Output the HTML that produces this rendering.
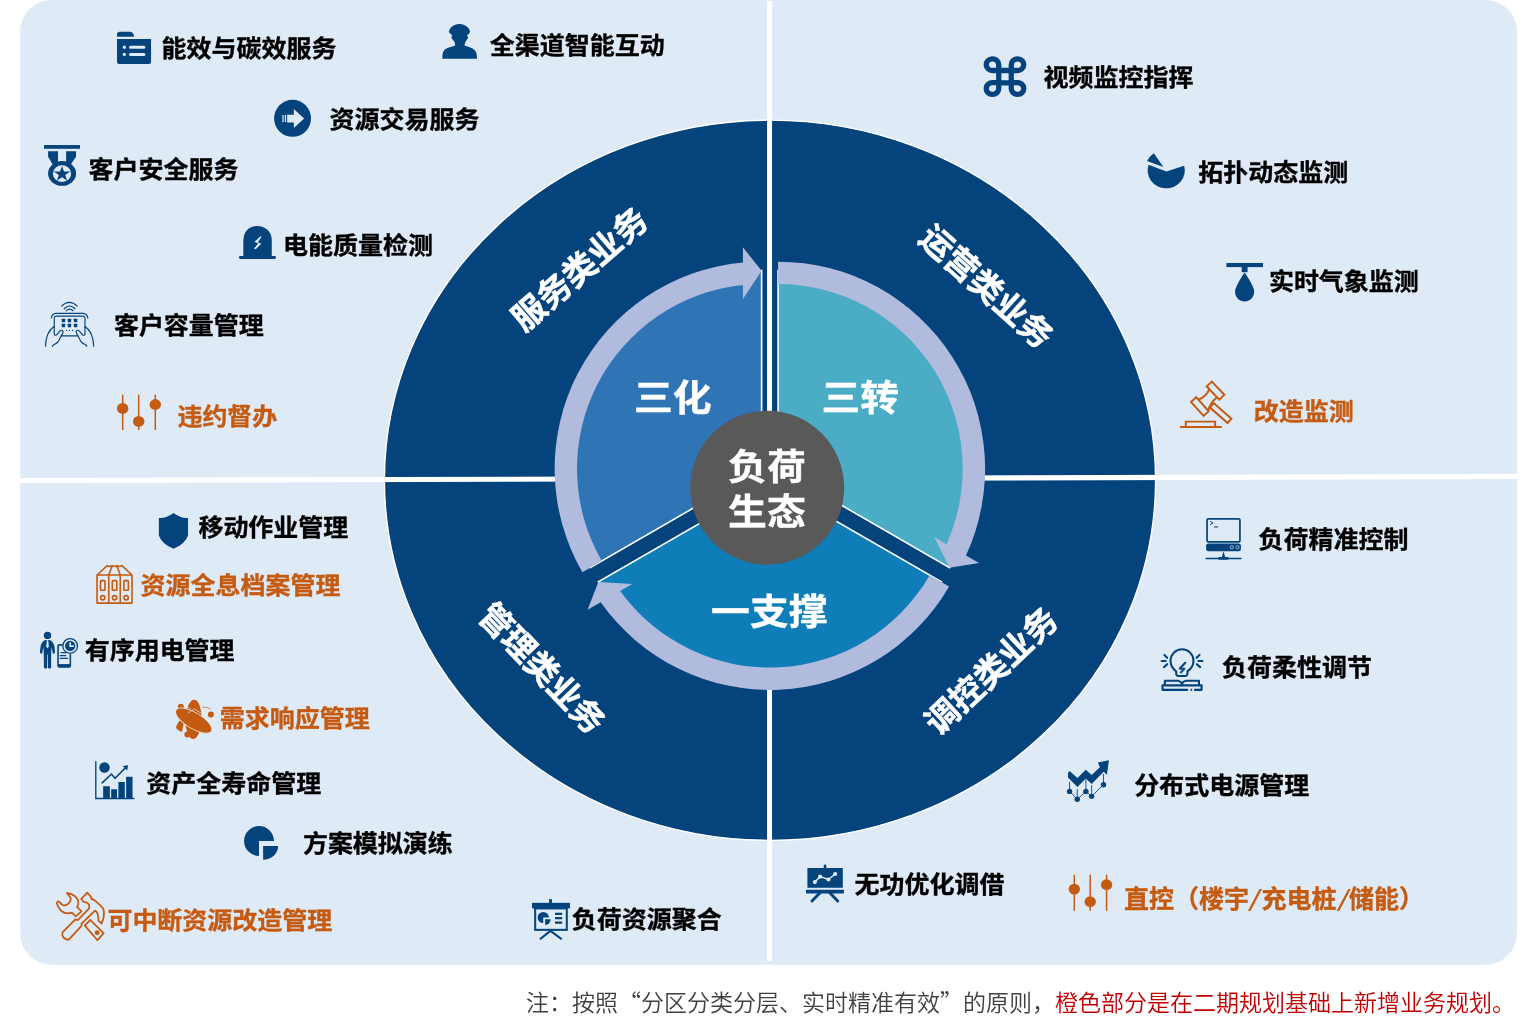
<!DOCTYPE html>
<html lang="zh-CN"><head><meta charset="utf-8"><title>负荷生态</title>
<style>
html,body{margin:0;padding:0;background:#fff;}
body{width:1533px;height:1029px;overflow:hidden;}
svg{display:block;will-change:transform;font-family:"Liberation Sans","Noto Sans CJK SC",sans-serif;}
</style></head><body>
<svg width="1533" height="1029" viewBox="0 0 1533 1029">
<rect x="20.2" y="0" width="1496.7" height="964.8" rx="32" ry="31" fill="#deeaf6"/>
<ellipse cx="770" cy="480.25" rx="385.6" ry="360.1" fill="#04437b" stroke="#fff" stroke-width="1.4"/>
<line x1="769.55" y1="1" x2="769.55" y2="961.2" stroke="#fff" stroke-width="5"/>
<line x1="20" y1="480.5" x2="1517" y2="476.5" stroke="#fff" stroke-width="5.1"/>
<path d="M778.08 468.65 L778.08 270.65 A198.0 198.0 0 0 1 949.55 567.65 Z" fill="#4bacc6" stroke="#fff" stroke-width="1.6" stroke-linejoin="miter"/>
<path d="M769.85 482.9 L941.32 581.9 A198.0 198.0 0 0 1 598.38 581.9 Z" fill="#0f7eb8" stroke="#fff" stroke-width="1.6" stroke-linejoin="miter"/>
<path d="M761.62 468.65 L590.15 567.65 A198.0 198.0 0 0 1 761.62 270.65 Z" fill="#2f74b5" stroke="#fff" stroke-width="1.6" stroke-linejoin="miter"/>
<path d="M778.08 261.65 A207.0 207.0 0 0 1 965.96 555.53 L979.08 563.11 L949.55 567.65 L934.39 537.31 L946.47 544.28 A184.6 184.6 0 0 0 778.08 284.05 Z" fill="#b0bbde"/>
<path d="M949.12 586.4 A207.0 207.0 0 0 1 600.67 602.17 L587.55 609.74 L598.38 581.9 L632.24 583.94 L620.15 590.92 A184.6 184.6 0 0 0 929.72 575.2 Z" fill="#b0bbde"/>
<path d="M582.36 572.15 A207.0 207.0 0 0 1 742.92 262.5 L742.92 247.35 L761.62 270.65 L742.92 298.95 L742.92 285 A184.6 184.6 0 0 0 601.75 560.95 Z" fill="#b0bbde"/>
<circle cx="767.2" cy="487.7" r="77" fill="#595959"/>
<text transform="translate(672.7 411.2) scale(1.035 0.955)" font-size="37.5" text-anchor="middle" fill="#fff" stroke="#fff" stroke-width="0.4" font-weight="700" >三化</text>
<text transform="translate(860.2 411.2) scale(1.035 0.955)" font-size="37.5" text-anchor="middle" fill="#fff" stroke="#fff" stroke-width="0.4" font-weight="700" >三转</text>
<text transform="translate(769.3 624.9) scale(1.035 0.955)" font-size="37.5" text-anchor="middle" fill="#fff" stroke="#fff" stroke-width="0.4" font-weight="700" >一支撑</text>
<text transform="translate(766.9 480.1) scale(1.035 0.955)" font-size="37.5" text-anchor="middle" fill="#fff" stroke="#fff" stroke-width="0.4" font-weight="700" >负荷</text>
<text transform="translate(766.9 525) scale(1.035 0.955)" font-size="37.5" text-anchor="middle" fill="#fff" stroke="#fff" stroke-width="0.4" font-weight="700" >生态</text>
<text transform="translate(579.8 269.6) rotate(-40.8)" x="0" y="0" font-size="33.4" text-anchor="middle" dominant-baseline="central" fill="#fff" stroke="#fff" stroke-width="0.5" font-weight="700">服务类业务</text>
<text transform="translate(986.1 287) rotate(41.8)" x="0" y="0" font-size="33" text-anchor="middle" dominant-baseline="central" fill="#fff" stroke="#fff" stroke-width="0.5" font-weight="700">运营类业务</text>
<text transform="translate(541.6 668.6) rotate(46.2)" x="0" y="0" font-size="33" text-anchor="middle" dominant-baseline="central" fill="#fff" stroke="#fff" stroke-width="0.5" font-weight="700">管理类业务</text>
<text transform="translate(991.5 671.4) rotate(-43.1)" x="0" y="0" font-size="33.4" text-anchor="middle" dominant-baseline="central" fill="#fff" stroke="#fff" stroke-width="0.5" font-weight="700">调控类业务</text>
<text transform="translate(161.6 57.1) scale(1 0.965)" font-size="25" fill="#000" stroke="#000" stroke-width="0.35" font-weight="700">能效与碳效服务</text>
<text transform="translate(489.8 53.5) scale(1 0.965)" font-size="25" fill="#000" stroke="#000" stroke-width="0.35" font-weight="700">全渠道智能互动</text>
<text transform="translate(329.6 127.7) scale(1 0.965)" font-size="25" fill="#000" stroke="#000" stroke-width="0.35" font-weight="700">资源交易服务</text>
<text transform="translate(88.5 177.7) scale(1 0.965)" font-size="25" fill="#000" stroke="#000" stroke-width="0.35" font-weight="700">客户安全服务</text>
<text transform="translate(283.1 253.5) scale(1 0.965)" font-size="25" fill="#000" stroke="#000" stroke-width="0.35" font-weight="700">电能质量检测</text>
<text transform="translate(113.9 333.6) scale(1 0.965)" font-size="25" fill="#000" stroke="#000" stroke-width="0.35" font-weight="700">客户容量管理</text>
<text transform="translate(177.4 425.4) scale(1 0.965)" font-size="25" fill="#c55a11" stroke="#c55a11" stroke-width="0.35" font-weight="700">违约督办</text>
<text transform="translate(1043.5 86.3) scale(1 0.965)" font-size="25" fill="#000" stroke="#000" stroke-width="0.35" font-weight="700">视频监控指挥</text>
<text transform="translate(1198.3 181.3) scale(1 0.965)" font-size="25" fill="#000" stroke="#000" stroke-width="0.35" font-weight="700">拓扑动态监测</text>
<text transform="translate(1268.9 289.5) scale(1 0.965)" font-size="25" fill="#000" stroke="#000" stroke-width="0.35" font-weight="700">实时气象监测</text>
<text transform="translate(1253.7 420.2) scale(1 0.965)" font-size="25" fill="#c55a11" stroke="#c55a11" stroke-width="0.35" font-weight="700">改造监测</text>
<text transform="translate(198.4 535.5) scale(1 0.965)" font-size="25" fill="#000" stroke="#000" stroke-width="0.35" font-weight="700">移动作业管理</text>
<text transform="translate(140.6 593.5) scale(1 0.965)" font-size="25" fill="#c55a11" stroke="#c55a11" stroke-width="0.35" font-weight="700">资源全息档案管理</text>
<text transform="translate(84.7 658.5) scale(1 0.965)" font-size="25" fill="#000" stroke="#000" stroke-width="0.35" font-weight="700">有序用电管理</text>
<text transform="translate(219.8 727.4) scale(1 0.965)" font-size="25" fill="#c55a11" stroke="#c55a11" stroke-width="0.35" font-weight="700">需求响应管理</text>
<text transform="translate(146.3 792.3) scale(1 0.965)" font-size="25" fill="#000" stroke="#000" stroke-width="0.35" font-weight="700">资产全寿命管理</text>
<text transform="translate(302.9 851.8) scale(1 0.965)" font-size="25" fill="#000" stroke="#000" stroke-width="0.35" font-weight="700">方案模拟演练</text>
<text transform="translate(107.4 928.5) scale(1 0.965)" font-size="25" fill="#c55a11" stroke="#c55a11" stroke-width="0.35" font-weight="700">可中断资源改造管理</text>
<text transform="translate(571.8 927.7) scale(1 0.965)" font-size="25" fill="#000" stroke="#000" stroke-width="0.35" font-weight="700">负荷资源聚合</text>
<text transform="translate(1258.6 548.2) scale(1 0.965)" font-size="25" fill="#000" stroke="#000" stroke-width="0.35" font-weight="700">负荷精准控制</text>
<text transform="translate(1222 675.5) scale(1 0.965)" font-size="25" fill="#000" stroke="#000" stroke-width="0.35" font-weight="700">负荷柔性调节</text>
<text transform="translate(1134.3 793.6) scale(1 0.965)" font-size="25" fill="#000" stroke="#000" stroke-width="0.35" font-weight="700">分布式电源管理</text>
<text transform="translate(854.6 893.3) scale(1 0.965)" font-size="25" fill="#000" stroke="#000" stroke-width="0.35" font-weight="700">无功优化调借</text>
<text y="908" font-size="25" fill="#c55a11" stroke="#c55a11" stroke-width="0.35" font-weight="700"><tspan x="1123.9">直控（楼宇</tspan><tspan x="1261.5">充电桩</tspan><tspan x="1349.1">储能）</tspan></text>
<text transform="translate(1248.5 907.4) skewX(-13) scale(1 0.86)" font-family="Noto Sans CJK SC" font-size="26" fill="#c55a11" font-weight="700">/</text>
<text transform="translate(1337.3 907.4) skewX(-13) scale(1 0.86)" font-family="Noto Sans CJK SC" font-size="26" fill="#c55a11" font-weight="700">/</text>
<text x="526" y="1010.5" font-size="23" font-weight="350" fill="#404040">注：按照<tspan font-family="Noto Sans CJK SC">“</tspan>分区分类分层、实时精准有效<tspan font-family="Noto Sans CJK SC">”</tspan>的原则，<tspan fill="#c00000">橙色部分是在二期规划基础上新增业务规划。</tspan></text>
<g transform="translate(105 20) scale(0.05342)" ><path d="M225 315 V272 Q225 222 277 222 H468 Q520 226 545 298 V315 Z" fill="#04437b"/>
<path d="M225 355 H862 V785 Q862 825 822 825 H265 Q225 825 225 785 Z" fill="#04437b"/>
<circle cx="362" cy="510" r="31" fill="#deeaf6"/><circle cx="362" cy="645" r="31" fill="#deeaf6"/>
<path d="M478 510 H728 M478 645 H728" stroke="#deeaf6" stroke-width="58" stroke-linecap="round"/></g>
<g transform="translate(430 15) scale(0.05342)" ><path d="M230 820 L235 740 Q250 640 340 615 L420 588 L470 572 L466 520 Q440 470 405 440 Q393 400 420 380 Q352 342 355 305 Q372 228 450 190 Q550 150 650 190 Q738 236 750 308 Q742 350 690 380 Q722 410 706 446 Q660 490 645 550 L655 575 L700 592 Q760 616 790 622 Q860 660 875 740 L880 820 Z" fill="#04437b"/></g>
<g transform="translate(265 92) scale(0.05149)" ><ellipse cx="535.5" cy="511" rx="358" ry="359" fill="#04437b"/>
<path d="M430 440 H560 V330 L760 515 L560 700 V590 H430 Z" fill="#deeaf6"/>
<rect x="335" y="445" width="30" height="140" fill="#deeaf6" opacity=".8"/><rect x="385" y="445" width="24" height="140" fill="#deeaf6"/></g>
<g transform="translate(35 135) scale(0.05342)" ><rect x="170" y="188" width="673" height="70" fill="#04437b"/>
<path d="M245 302 H430 V520 L340 565 L245 405 Z M583 302 H768 V405 L668 550 L583 520 Z" fill="#04437b"/>
<ellipse cx="507" cy="720" rx="262" ry="231" fill="#04437b"/>
<ellipse cx="506" cy="724" rx="171" ry="156" fill="#deeaf6"/>
<polygon points="506.0,582.0 542.8,685.1 660.1,685.6 565.6,749.9 601.2,853.4 506.0,790.0 410.8,853.4 446.4,749.9 351.9,685.6 469.2,685.1" fill="#04437b"/></g>
<g transform="translate(230 215) scale(0.05342)" ><path d="M250 790 V470 Q255 330 350 255 Q430 200 516 205 Q610 205 690 265 Q780 340 782 470 V790 Z" fill="#04437b"/>
<path d="M195 795 H833" stroke="#04437b" stroke-width="54" stroke-linecap="round"/>
<path d="M578 392 L458 500 L528 532 L448 628 L482 642 L584 540 L522 508 L588 410 Z" fill="#deeaf6"/></g>
<g transform="translate(35 295) scale(0.05834)" ><g fill="none" stroke="#04437b" stroke-width="20" stroke-linecap="round" stroke-linejoin="round">
<path d="M455 190 Q590 65 725 190"/><path d="M500 236 Q592 140 685 236"/><path d="M536 270 Q592 215 650 270"/>
<path d="M280 395 Q290 320 360 315 H825 Q895 320 905 395"/>
<path d="M448 700 H735"/>
<path d="M330 560 V395 Q330 362 362 362 H825 Q857 362 857 395 V560"/>
<path d="M325 540 Q185 640 180 880"/><path d="M860 540 Q1000 640 1005 880"/>
<path d="M330 560 V665 Q335 700 370 685 L430 615 Q465 590 482 625 Q478 660 455 690 L405 790 Q375 830 335 845 Q305 860 300 880"/>
<path d="M857 560 V665 Q852 700 817 685 L757 615 Q722 590 705 625 Q709 660 732 690 L782 790 Q812 830 852 845 Q882 860 887 880"/>
</g><rect x="458" y="408" width="58" height="58" rx="8" fill="#04437b"/><rect x="458" y="494" width="58" height="58" rx="8" fill="#04437b"/><rect x="561" y="408" width="58" height="58" rx="8" fill="#04437b"/><rect x="561" y="494" width="58" height="58" rx="8" fill="#04437b"/><rect x="666" y="408" width="58" height="58" rx="8" fill="#04437b"/><rect x="666" y="494" width="58" height="58" rx="8" fill="#04437b"/>
<circle cx="540" cy="608" r="11" fill="#04437b"/><circle cx="591" cy="608" r="11" fill="#04437b"/><circle cx="642" cy="608" r="11" fill="#04437b"/></g>
<line x1="122.7" y1="394.7" x2="122.7" y2="430" stroke="#c55a11" stroke-width="1.5"/><line x1="138.7" y1="394.7" x2="138.7" y2="430" stroke="#c55a11" stroke-width="1.5"/><line x1="155.3" y1="394.7" x2="155.3" y2="430" stroke="#c55a11" stroke-width="1.5"/><ellipse cx="122.7" cy="408.4" rx="5.7" ry="5.4" fill="#c55a11"/><ellipse cx="138.7" cy="421.4" rx="5.7" ry="5.4" fill="#c55a11"/><ellipse cx="155.3" cy="404.5" rx="5.7" ry="5.4" fill="#c55a11"/>
<line x1="1074.3" y1="874.8" x2="1074.3" y2="910.8" stroke="#c55a11" stroke-width="1.5"/><line x1="1090.2" y1="874.8" x2="1090.2" y2="910.8" stroke="#c55a11" stroke-width="1.5"/><line x1="1106.6" y1="874.8" x2="1106.6" y2="910.8" stroke="#c55a11" stroke-width="1.5"/><ellipse cx="1074.3" cy="889.1" rx="5.7" ry="5.4" fill="#c55a11"/><ellipse cx="1090.2" cy="901.7" rx="5.7" ry="5.4" fill="#c55a11"/><ellipse cx="1106.6" cy="884.7" rx="5.7" ry="5.4" fill="#c55a11"/>
<g transform="translate(960 30) scale(0.19569)" ><g fill="none" stroke="#04437b" stroke-width="27">
<path d="M195 207 H265 M195 270 H265 M198 204 V272 M262 204 V272"/>
<path d="M198 207 H168 A32 30 0 1 1 198 177 Z"/>
<path d="M262 207 H292 A32 30 0 1 0 262 177 Z"/>
<path d="M198 269 H168 A32 30 0 1 0 198 299 Z"/>
<path d="M262 269 H292 A32 30 0 1 1 262 299 Z"/>
</g></g>
<g transform="translate(1120 125) scale(0.19569)" ><path d="M237 237 L328 208 A95 92 0 1 1 146 203 Z" fill="#04437b"/>
<path d="M222 215 L138 184 Q150 160 173 144 Z" fill="#04437b"/></g>
<g transform="translate(1200 235) scale(0.19569)" ><rect x="135" y="143" width="187" height="21" fill="#04437b"/><rect x="213" y="160" width="30" height="30" fill="#04437b"/>
<path d="M228 192 Q262 240 276 280 A49 50 0 1 1 180 280 Q194 240 228 192 Z" fill="#04437b"/></g>
<g transform="translate(1150 360) scale(0.19569)" ><g fill="none" stroke="#c55a11" stroke-width="10" stroke-linejoin="miter">
<path d="M153 342 H367"/><path d="M183 342 V315 H333 V342"/>
<path d="M290 135 L316 110 L380 178 L354 203 Z"/>
<path d="M210 215 L236 190 L300 262 L274 286 Z"/>
<path d="M248 203 Q290 185 303 149 M298 259 Q305 222 342 190"/>
<path d="M305 242 L327 221 L416 300 L397 322 Z"/>
</g></g><g transform="translate(80 490) scale(0.19569)" ><path d="M478 118 Q515 146 552 143 V232 Q538 275 478 300 Q417 275 403 232 V143 Q440 146 478 118 Z" fill="#04437b"/></g>
<g transform="translate(85 555) scale(0.05342)" ><g fill="none" stroke="#c55a11" stroke-width="30" stroke-linejoin="round">
<rect x="225" y="375" width="655" height="525" rx="8"/>
<path d="M445 375 V900 M660 375 V900"/>
<path d="M225 375 L415 200 Q462 225 510 200 Q552 225 595 200 Q642 225 690 200 L880 375"/>
<path d="M445 375 L510 200 M660 375 L595 200"/>
<rect x="290" y="480" width="84" height="180" rx="14"/><circle cx="332" cy="800" r="40"/><rect x="511" y="480" width="84" height="180" rx="14"/><circle cx="553" cy="800" r="40"/><rect x="728" y="480" width="84" height="180" rx="14"/><circle cx="770" cy="800" r="40"/></g></g>
<g transform="translate(30 620) scale(0.05342)" ><circle cx="328" cy="288" r="69" fill="#04437b"/>
<path d="M290 375 L365 375 Q430 400 455 480 L470 600 Q460 642 428 630 L405 500 L396 620 L396 890 Q370 930 336 895 L333 650 L322 650 L320 895 Q290 930 260 890 L258 620 L250 500 L226 630 Q195 642 185 600 L200 480 Q225 400 290 375 Z" fill="#04437b"/>
<path d="M314 380 H342 L352 500 L328 528 L304 500 Z" fill="#deeaf6"/>
<rect x="525" y="465" width="230" height="415" rx="25" fill="none" stroke="#04437b" stroke-width="30"/>
<rect x="525" y="825" width="230" height="55" fill="#04437b"/>
<path d="M580 610 H690 M565 668 H670 M565 720 H705" stroke="#04437b" stroke-width="22" stroke-linecap="round"/>
<circle cx="752" cy="485" r="150" fill="#deeaf6"/>
<circle cx="752" cy="485" r="137" fill="none" stroke="#04437b" stroke-width="24"/>
<circle cx="752" cy="485" r="96" fill="#04437b"/>
<path d="M752 418 V490 H822" fill="none" stroke="#deeaf6" stroke-width="30"/></g>
<g transform="translate(160 690) scale(0.05345)" ><ellipse cx="628" cy="550" rx="150" ry="368" fill="#c55a11" transform="rotate(2 628 550)"/>
<path d="M410 785 Q300 740 300 690 Q320 620 370 570 Q420 600 440 640 Q430 720 410 785 Z" fill="#c55a11"/>
<circle cx="390" cy="312" r="56" fill="#c55a11"/><circle cx="952" cy="460" r="56" fill="#c55a11"/><circle cx="512" cy="832" r="56" fill="#c55a11"/>
<ellipse cx="630" cy="572" rx="385" ry="150" fill="#c55a11" stroke="#deeaf6" stroke-width="14" transform="rotate(31 630 572)"/>
<path d="M520 430 L640 355 L780 440" fill="none" stroke="#deeaf6" stroke-width="14"/>
<path d="M795 322 Q890 318 950 358" fill="none" stroke="#c55a11" stroke-width="12"/>
<path d="M500 325 Q545 330 575 350" fill="none" stroke="#deeaf6" stroke-width="12"/>
</g>
<g transform="translate(85 750) scale(0.05342)" ><path d="M202 220 V908 H915" fill="none" stroke="#04437b" stroke-width="25" stroke-linecap="round"/>
<circle cx="365" cy="328" r="98" fill="#04437b"/>
<path d="M340 900 V680 H465 V900 Z M490 900 V735 H600 V900 Z M625 900 V600 H745 V900 Z M770 900 V500 H890 V900 Z" fill="#04437b"/>
<path d="M312 625 L495 450 L562 528 L785 305" fill="none" stroke="#04437b" stroke-width="30"/>
<path d="M705 298 L805 285 L790 385 Z" fill="#04437b"/></g>
<g transform="translate(230 815) scale(0.05342)" ><path d="M543 487 H823 A280 280 0 1 0 543 767 Z" fill="#04437b"/>
<path d="M620 582 H900 A280 258 0 0 1 620 840 Z" fill="#04437b"/></g>
<g transform="translate(40 880) scale(0.06803)" ><g fill="none" stroke="#c55a11" stroke-width="26" stroke-linejoin="round">
<path d="M330 770 L520 580 L555 590 L720 420 Q742 350 670 325 L640 320 L605 280 L693 185 L745 240 Q750 290 800 295 Q880 360 930 420 Q960 520 905 640 L860 600 Q860 470 810 450 L610 640 L610 675 L420 880 Q310 860 330 770 Z"/>
<path d="M395 190 Q520 210 560 300 Q575 350 545 400 L610 460 L525 535 L470 480 Q380 510 320 460 Q265 410 245 340 Q260 300 290 325 Q340 400 400 360 Q460 320 450 260 Z"/>
<path d="M660 670 L738 585 L935 782 L845 885 Z"/>
</g><circle cx="840" cy="775" r="36" fill="#c55a11"/></g>
<g transform="translate(520 890) scale(0.05342)" ><rect x="545" y="170" width="53" height="75" fill="#04437b"/>
<rect x="225" y="240" width="710" height="105" fill="#04437b"/>
<rect x="284" y="345" width="592" height="401" fill="none" stroke="#04437b" stroke-width="38"/>
<path d="M435 515 H540 A105 105 0 1 0 435 620 Z" fill="#04437b"/>
<path d="M470 548 H575 A105 105 0 0 1 470 653 Z" fill="#04437b"/>
<path d="M655 447 H790 M655 527 H790 M655 610 H790" stroke="#04437b" stroke-width="40"/>
<path d="M570 765 L372 922 M570 765 L782 922" stroke="#04437b" stroke-width="40"/></g>
<g transform="translate(1195 510) scale(0.05342)" ><rect x="226" y="166" width="615" height="430" rx="22" fill="none" stroke="#04437b" stroke-width="32"/>
<rect x="208" y="625" width="652" height="145" rx="42" fill="#04437b"/>
<circle cx="690" cy="698" r="30" fill="none" stroke="#deeaf6" stroke-width="12"/><circle cx="797" cy="698" r="30" fill="none" stroke="#deeaf6" stroke-width="12"/>
<path d="M533 770 L502 885 H565 Z" fill="#04437b"/><rect x="440" y="880" width="185" height="52" rx="10" fill="#04437b"/>
<path d="M208 908 H860" stroke="#04437b" stroke-width="26" stroke-linecap="round"/>
<path d="M285 212 L338 245 L285 273" fill="none" stroke="#04437b" stroke-width="18"/><rect x="360" y="302" width="72" height="28" fill="#04437b" opacity=".75"/></g>
<g transform="translate(1150 640) scale(0.05831)" ><g fill="none" stroke="#04437b" stroke-width="36" stroke-linecap="round" stroke-linejoin="round">
<path d="M450 540 Q352 470 352 358 A197 200 0 1 1 746 358 Q746 470 642 540 L642 590 Q637 616 610 618 L482 618 Q455 616 450 590 Z"/>
<path d="M605 390 L512 490 L588 495 L532 555"/>
<path d="M245 255 L295 305 M200 360 H270 M240 465 L295 415 M850 255 L800 305 M830 360 H900 M805 415 L860 465"/>
<path d="M255 762 V700 H480 Q530 708 548 748 Q566 708 615 700 H840 V762"/>
<path d="M640 855 H215 V778 H885 V855 H770"/>
<path d="M548 748 V775"/>
</g><circle cx="708" cy="855" r="18" fill="#04437b"/></g>
<g transform="translate(1055 750) scale(0.05831)" ><path d="M250 360 L385 480 L528 340 L628 430 L770 295 L735 215 L925 175 L890 425 L835 375 L628 585 L528 490 L385 635 L222 470 L222 395 Z" fill="#04437b"/>
<path d="M250 710 L382 845 L530 710 L628 795 L832 595 M250 545 V710 M382 670 V845 M530 500 V710 M628 605 V795 M832 410 V595" fill="none" stroke="#04437b" stroke-width="15"/>
<circle cx="250" cy="710" r="46" fill="#04437b"/><circle cx="382" cy="845" r="46" fill="#04437b"/><circle cx="530" cy="710" r="46" fill="#04437b"/><circle cx="628" cy="795" r="46" fill="#04437b"/><circle cx="832" cy="595" r="46" fill="#04437b"/></g>
<g transform="translate(795 855) scale(0.05342)" ><path d="M562 205 V250" stroke="#04437b" stroke-width="50" stroke-linecap="round"/>
<rect x="232" y="243" width="663" height="372" rx="12" fill="#04437b"/>
<rect x="207" y="652" width="708" height="70" rx="10" fill="#04437b"/>
<path d="M460 715 L318 860 M660 715 L800 860" stroke="#04437b" stroke-width="55" stroke-linecap="round"/>
<path d="M372 507 L470 405 L625 458 L752 355" fill="none" stroke="#deeaf6" stroke-width="28"/><circle cx="372" cy="507" r="39" fill="#deeaf6"/><circle cx="470" cy="405" r="39" fill="#deeaf6"/><circle cx="625" cy="458" r="39" fill="#deeaf6"/><circle cx="752" cy="355" r="39" fill="#deeaf6"/></g>
</svg>
</body></html>
